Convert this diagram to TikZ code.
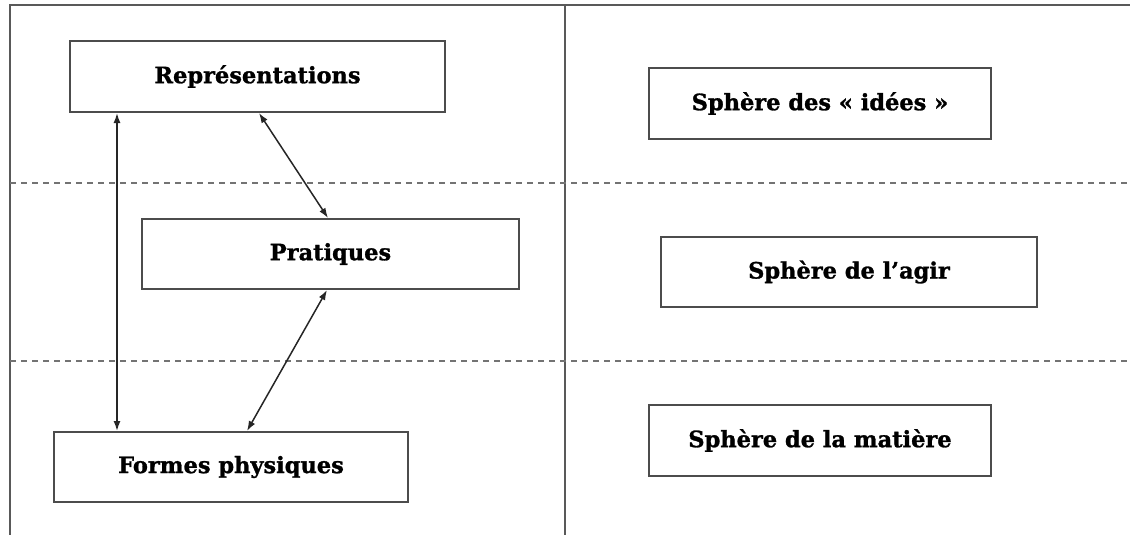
\documentclass[tikz,border=0pt]{standalone}
\usepackage{fontspec}
\setmainfont{DejaVu Serif}[BoldFeatures={FakeBold=1.2}]
\usetikzlibrary{arrows.meta}
\begin{document}
\begin{tikzpicture}[x=1pt,y=-1pt,
  frame/.style={draw=black!65, line width=2pt},
  sep/.style={draw=black!55, line width=1.3pt, dash pattern=on 6pt off 5pt},
  box/.style={draw=black!70, line width=2pt, rectangle, inner sep=0pt,
    font=\fontsize{22.5}{26}\selectfont\bfseries},
  link/.style={draw=black!85, line width=1.5pt, {Latex[length=10pt,width=7pt]}-{Latex[length=10pt,width=7pt]}}]
\useasboundingbox (0,0) rectangle (1130,535);
% frame
\draw[frame] (10,535) -- (10,5) -- (1130,5);
\draw[frame] (565,5) -- (565,535);
\draw[sep] (10,183) -- (1130,183);
\draw[sep] (10,361) -- (1130,361);
% left boxes
\node[box, minimum width=375pt, minimum height=71pt] (rep) at (257.5,76.5) {Représentations};
\node[box, minimum width=377pt, minimum height=70pt] (prat) at (330.5,254) {Pratiques};
\node[box, minimum width=354pt, minimum height=70pt] (form) at (231,467) {Formes physiques};
% right boxes
\node[box, minimum width=342pt, minimum height=71pt] (idees) at (820,103.5) {Sphère des « idées »};
\node[box, minimum width=376pt, minimum height=70pt] (agir) at (849,272) {Sphère de l’agir};
\node[box, minimum width=342pt, minimum height=71pt] (mat) at (820,440.5) {Sphère de la matière};
% connectors
\draw[link] ([xshift=48pt]rep.south west) -- ([xshift=64pt]form.north west);
\draw[link] ([xshift=190pt]rep.south west) -- ([xshift=187pt]prat.north west);
\draw[link] ([xshift=186pt]prat.south west) -- ([xshift=194pt]form.north west);
\end{tikzpicture}
\end{document}
